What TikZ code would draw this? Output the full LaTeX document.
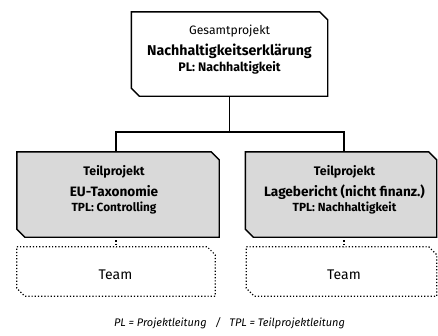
\documentclass[tikz,border=0pt]{standalone}
\usepackage{fontspec}
\setmainfont{Fira Sans}

% outline of a box with its north-east and south-west corners cut off
\newcommand\chamferbox[2]{%
  \draw[#2] (#1.north west) -- ([xshift=-8pt]#1.north east) -- ([yshift=-8pt]#1.north east)
    -- (#1.south east) -- ([xshift=8pt]#1.south west) -- ([yshift=8pt]#1.south west) -- cycle;}

\begin{document}
\begin{tikzpicture}[x=1pt,y=-1pt,
  frame/.style={rectangle, inner sep=0pt},
  box/.style={draw=black, line width=1.4pt, line join=miter},
  subbox/.style={box, fill=black!15},
  teambox/.style={draw=black, line width=1.2pt, dotted},
  link/.style={draw=black, line width=1.4pt},
  dotlink/.style={draw=black, line width=1.2pt, dotted},
  lbl/.style={anchor=base, inner sep=0pt},
  fhead/.style={font=\fontsize{12.2}{14}\selectfont},
  fheadb/.style={font=\bfseries\fontsize{12.4}{14}\selectfont},
  ftitle/.style={font=\bfseries\fontsize{14.2}{16}\selectfont},
  fsub/.style={font=\bfseries\fontsize{13.6}{15}\selectfont},
  fnote/.style={font=\bfseries\fontsize{12.4}{14}\selectfont},
  fnotes/.style={font=\bfseries\fontsize{11.8}{14}\selectfont},
  fteam/.style={font=\fontsize{14}{16}\selectfont}]
\useasboundingbox (0,0) rectangle (438,335);

% box frames
\node[frame, minimum width=196pt, minimum height=84pt] (top) at (229.5,54) {};
\node[frame, minimum width=202pt, minimum height=85pt] (left) at (118,194.5) {};
\node[frame, minimum width=191pt, minimum height=85pt] (right) at (341,194.5) {};
\node[frame, minimum width=198pt, minimum height=49pt] (teamL) at (116,271.5) {};
\node[frame, minimum width=190pt, minimum height=49pt] (teamR) at (341.5,271.5) {};

\chamferbox{top}{box}
\chamferbox{left}{subbox}
\chamferbox{right}{subbox}
\chamferbox{teamL}{teambox}
\chamferbox{teamR}{teambox}

% box texts
\node[lbl, fhead] (t1) at (229.5,34.5) {Gesamtprojekt};
\node[lbl, ftitle] (t2) at (229.5,55) {Nachhaltigkeitserklärung};
\node[lbl, fnote] (t3) at (229.5,71) {PL: Nachhaltigkeit};

\node[lbl, fheadb] (l1) at (114,175.5) {Teilprojekt};
\node[lbl, fsub] (l2) at (114,196) {EU-Taxonomie};
\node[lbl, fnotes] (l3) at (114,211) {TPL: Controlling};

\node[lbl, fheadb] (r1) at (344.5,175.5) {Teilprojekt};
\node[lbl, fsub] (r2) at (344.5,196) {Lagebericht (nicht finanz.)};
\node[lbl, fnotes] (r3) at (344.5,211) {TPL: Nachhaltigkeit};

\node[lbl, fteam] (tl) at (115.5,279.5) {Team};
\node[lbl, fteam] (tr) at (344,279.5) {Team};

% legend
\node[lbl, font=\itshape\fontsize{11}{13}\selectfont] (legend) at (229.5,326)
  {PL = Projektleitung~~~/~~~TPL = Teilprojektleitung};

% connectors
\coordinate (busL) at (116,132);
\coordinate (busR) at (344,132);
\draw[link] (top.south) -- (top.south |- busL);
\draw[link] (busL |- left.north) -- (busL) -- (busR) -- (busR |- right.north);
\draw[dotlink] (busL |- left.south) -- (busL |- teamL.north);
\draw[dotlink] (busR |- right.south) -- (busR |- teamR.north);
\end{tikzpicture}
\end{document}
